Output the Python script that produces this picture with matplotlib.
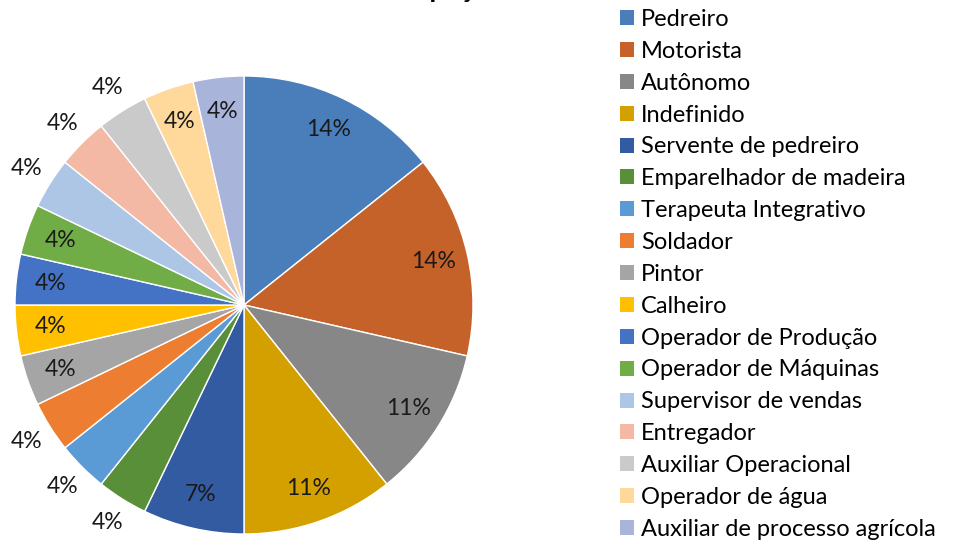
import numpy as np
import matplotlib
matplotlib.use('Agg')
import matplotlib.pyplot as plt
from matplotlib.patches import Patch

plt.rcParams['font.family'] = ['Lato', 'DejaVu Sans']

categorias = ['Pedreiro', 'Motorista', 'Autônomo', 'Indefinido', 'Servente de pedreiro',
              'Emparelhador de madeira', 'Terapeuta Integrativo', 'Soldador', 'Pintor',
              'Calheiro', 'Operador de Produção', 'Operador de Máquinas',
              'Supervisor de vendas', 'Entregador', 'Auxiliar Operacional',
              'Operador de água', 'Auxiliar de processo agrícola']
contagens = [4, 4, 3, 3, 2, 1, 1, 1, 1, 1, 1, 1, 1, 1, 1, 1, 1]
cores = ['#4A7EBB', '#C5622A', '#878787', '#D4A000', '#335BA1', '#5A8F3A',
         '#5B9BD5', '#ED7D31', '#A5A5A5', '#FFC000', '#4472C4', '#70AD47',
         '#AEC6E6', '#F4B9A4', '#CACACA', '#FFD89B', '#A9B4DB']
# True = rotulo dentro da fatia, False = fora
dentro = [True, True, True, True, True, False, False, False, True, True, True,
          True, False, False, False, True, True]

W, H = 954, 542
fig = plt.figure(figsize=(W / 100, H / 100), dpi=100)

cx, cy, R = 244, 305, 229
ax = fig.add_axes([(cx - R) / W, (H - cy - R) / H, 2 * R / W, 2 * R / H])
wedges, _ = ax.pie(contagens, colors=cores, startangle=90, counterclock=False,
                   radius=1, wedgeprops=dict(edgecolor='white', linewidth=1))
ax.set_xlim(-1, 1)
ax.set_ylim(-1, 1)
ax.set_aspect('equal')
ax.axis('off')

total = sum(contagens)
for w, c, d in zip(wedges, contagens, dentro):
    ang = np.deg2rad((w.theta1 + w.theta2) / 2)
    r = 0.85 if d else 1.12
    ax.text(r * np.cos(ang), r * np.sin(ang), '%d%%' % round(100 * c / total),
            ha='center', va='center', fontsize=16.5, color='#1a1a1a')

handles = [Patch(facecolor=c, edgecolor='none') for c in cores]
fig.legend(handles, categorias, loc='upper left', bbox_to_anchor=(620 / W, 1 - 9 / H),
           frameon=False, fontsize=17, handlelength=0.6, handleheight=0.6,
           handletextpad=0.3, labelspacing=0.46, borderaxespad=0, borderpad=0)

fig.text(440 / W, 1 + 3 / H, 'Ocupação', ha='center', va='baseline',
         fontsize=20, fontweight='bold')

fig.savefig('out.png', dpi=100)
